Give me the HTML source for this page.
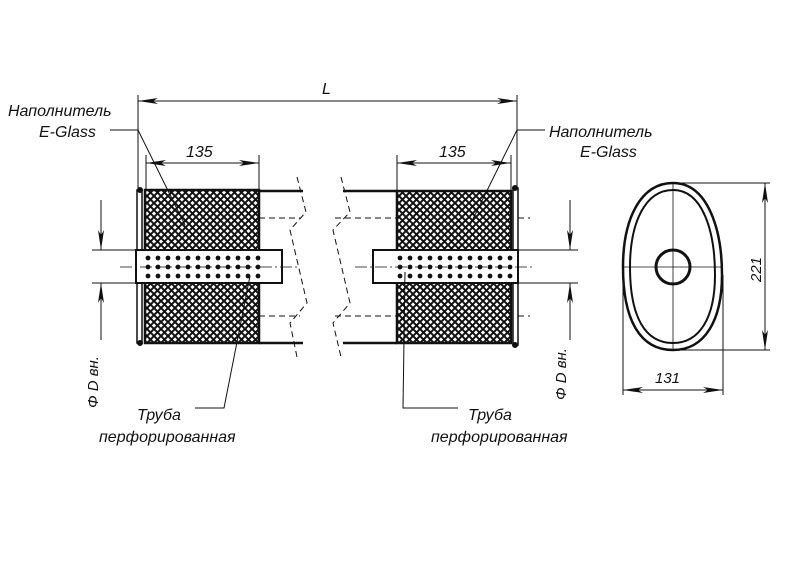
<!DOCTYPE html>
<html><head><meta charset="utf-8"><style>
html,body{margin:0;padding:0;background:#fff;}
svg{display:block;}
text{font-family:"Liberation Sans",sans-serif;font-style:italic;fill:#111;}
</style></head><body>
<svg width="800" height="578" viewBox="0 0 800 578" xmlns="http://www.w3.org/2000/svg">
<defs>
<pattern id="hx" width="7" height="7" patternUnits="userSpaceOnUse">
<rect width="7" height="7" fill="#fff"/>
<path d="M0,0L7,7M7,0L0,7" stroke="#111" stroke-width="2"/>
</pattern>
<marker id="a" viewBox="0 0 20 8" refX="20" refY="4" markerWidth="20" markerHeight="8" orient="auto-start-reverse" markerUnits="userSpaceOnUse">
<path d="M0,1L20,4L0,7L5,4Z" fill="#111"/>
</marker>
</defs>
<g stroke="#111" fill="none">
<line x1="138" y1="95" x2="138" y2="190" stroke-width="1"/>
<line x1="517" y1="95" x2="517" y2="190" stroke-width="1"/>
<line x1="138" y1="101" x2="517" y2="101" stroke-width="1" marker-start="url(#a)" marker-end="url(#a)"/>
<line x1="146" y1="155" x2="146" y2="190" stroke-width="1"/>
<line x1="259" y1="155" x2="259" y2="190" stroke-width="1"/>
<line x1="146" y1="163" x2="259" y2="163" stroke-width="1" marker-start="url(#a)" marker-end="url(#a)"/>
<line x1="397" y1="155" x2="397" y2="190" stroke-width="1"/>
<line x1="511" y1="155" x2="511" y2="190" stroke-width="1"/>
<line x1="397" y1="163" x2="511" y2="163" stroke-width="1" marker-start="url(#a)" marker-end="url(#a)"/>

<rect x="145" y="190" width="114" height="153" fill="url(#hx)" stroke-width="2.5"/>
<rect x="137" y="190" width="5" height="153" fill="#fff" stroke-width="1.5"/>
<circle cx="140" cy="190" r="2.5" fill="#111"/><circle cx="140" cy="343" r="2.5" fill="#111"/>
<line x1="259" y1="191" x2="303" y2="191" stroke-width="2.5"/>
<line x1="259" y1="343" x2="303" y2="343" stroke-width="2.5"/>
<line x1="259" y1="218" x2="300" y2="218" stroke-width="1" stroke-dasharray="6,4"/>
<line x1="259" y1="316" x2="300" y2="316" stroke-width="1" stroke-dasharray="6,4"/>
<rect x="136" y="250" width="146" height="33" fill="#fff" stroke-width="2"/>

<rect x="397" y="191" width="114" height="152" fill="url(#hx)" stroke-width="2.5"/>
<rect x="513" y="188" width="5" height="157" fill="#fff" stroke-width="1.5"/>
<circle cx="515" cy="188" r="2.5" fill="#111"/><circle cx="515" cy="345" r="2.5" fill="#111"/>
<line x1="343" y1="191" x2="397" y2="191" stroke-width="2.5"/>
<line x1="343" y1="343" x2="397" y2="343" stroke-width="2.5"/>
<line x1="335" y1="218" x2="397" y2="218" stroke-width="1" stroke-dasharray="6,4"/>
<line x1="335" y1="316" x2="397" y2="316" stroke-width="1" stroke-dasharray="6,4"/>
<line x1="518" y1="218" x2="530" y2="218" stroke-width="1" stroke-dasharray="6,4"/>
<line x1="518" y1="316" x2="530" y2="316" stroke-width="1" stroke-dasharray="6,4"/>
<rect x="373" y="250" width="145" height="33" fill="#fff" stroke-width="2"/>

<polyline points="297,177 306,212 290,230 307,303 290,323 297,357" stroke-width="1" stroke-dasharray="6,4"/>
<polyline points="341,177 350,212 333,230 350,303 333,323 341,357" stroke-width="1" stroke-dasharray="6,4"/>

<line x1="120" y1="267" x2="300" y2="267" stroke-width="0.8" stroke-dasharray="12,3,2,3"/>
<line x1="355" y1="267" x2="535" y2="267" stroke-width="0.8" stroke-dasharray="12,3,2,3"/>

<line x1="92" y1="250" x2="136" y2="250" stroke-width="1"/>
<line x1="92" y1="283" x2="136" y2="283" stroke-width="1"/>
<line x1="101" y1="200" x2="101" y2="250" stroke-width="1" marker-end="url(#a)"/>
<line x1="101" y1="340" x2="101" y2="283" stroke-width="1" marker-end="url(#a)"/>
<line x1="518" y1="250" x2="578" y2="250" stroke-width="1"/>
<line x1="518" y1="283" x2="578" y2="283" stroke-width="1"/>
<line x1="570" y1="200" x2="570" y2="250" stroke-width="1" marker-end="url(#a)"/>
<line x1="570" y1="340" x2="570" y2="283" stroke-width="1" marker-end="url(#a)"/>

<polyline points="110,130 138,130 185,225" stroke-width="1"/>
<polyline points="545,130 517,130 470,225" stroke-width="1"/>
<polyline points="195,408 224,408 250,276" stroke-width="1"/>
<polyline points="458,408 403,408 405,272" stroke-width="1"/>

<path d="M673,183 C708,183 722,230 722,275 C722,320 705,350 673,350 C640,350 623,320 623,267 C623,220 640,183 673,183 Z" stroke-width="2.5"/>
<path d="M673,190 C703,190 715,232 715,275 C715,317 700,343 673,343 C645,343 630,317 630,267 C630,223 645,190 673,190 Z" stroke-width="2"/>
<circle cx="673" cy="267" r="17" stroke-width="3"/>
<line x1="673" y1="183" x2="673" y2="350" stroke-width="0.8"/>
<line x1="623" y1="267" x2="722" y2="267" stroke-width="0.8"/>
<line x1="673" y1="183" x2="770" y2="183" stroke-width="1"/>
<line x1="673" y1="350" x2="770" y2="350" stroke-width="1"/>
<line x1="765" y1="183" x2="765" y2="350" stroke-width="1" marker-start="url(#a)" marker-end="url(#a)"/>
<line x1="623" y1="275" x2="623" y2="395" stroke-width="1"/>
<line x1="723" y1="275" x2="723" y2="395" stroke-width="1"/>
<line x1="623" y1="390" x2="723" y2="390" stroke-width="1" marker-start="url(#a)" marker-end="url(#a)"/>
</g>
<g fill="#111">
<g id="dl">
<circle cx="148" cy="258" r="2.4"/><circle cx="158" cy="258" r="2.4"/><circle cx="168" cy="258" r="2.4"/><circle cx="178" cy="258" r="2.4"/><circle cx="188" cy="258" r="2.4"/><circle cx="198" cy="258" r="2.4"/><circle cx="208" cy="258" r="2.4"/><circle cx="218" cy="258" r="2.4"/><circle cx="228" cy="258" r="2.4"/><circle cx="238" cy="258" r="2.4"/><circle cx="248" cy="258" r="2.4"/><circle cx="258" cy="258" r="2.4"/>
</g>
<use href="#dl" y="9"/><use href="#dl" y="18"/>
<use href="#dl" x="252"/><use href="#dl" x="252" y="9"/><use href="#dl" x="252" y="18"/>
</g>
<text x="186" y="157" font-size="16">135</text>
<text x="439" y="157" font-size="16">135</text>
<text x="322" y="94" font-size="16">L</text>
<text x="8" y="116" font-size="16">Наполнитель</text>
<text x="39" y="137" font-size="16">E-Glass</text>
<text x="549" y="137" font-size="16">Наполнитель</text>
<text x="580" y="157" font-size="16">E-Glass</text>
<text x="137" y="420" font-size="16">Труба</text>
<text x="99" y="442" font-size="16">перфорированная</text>
<text x="468" y="420" font-size="16">Труба</text>
<text x="431" y="442" font-size="16">перфорированная</text>
<text x="655" y="383" font-size="15">131</text>
<text font-size="15" transform="translate(761,282) rotate(-90)">221</text>
<text font-size="15" transform="translate(98,408) rotate(-90)">Φ D вн.</text>
<text font-size="15" transform="translate(566,400) rotate(-90)">Φ D вн.</text>
</svg>
</body></html>
